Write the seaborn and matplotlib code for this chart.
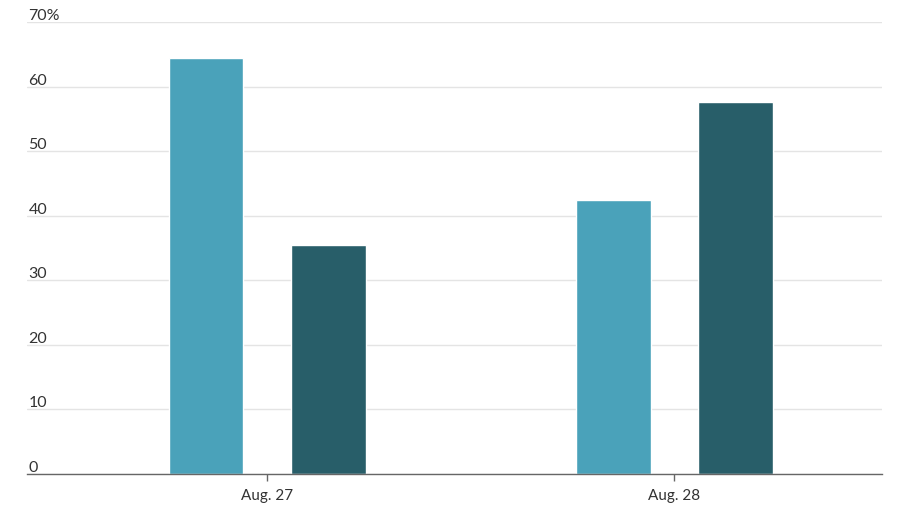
import pandas as pd
import matplotlib
matplotlib.use("Agg")
import matplotlib.pyplot as plt
import seaborn as sns

# values (percent)
dates = ["Aug. 27", "Aug. 28"]
series_names = ["First", "Second"]
first_values = [64.4, 42.4]
second_values = [35.5, 57.6]
y_ticks = [0, 10, 20, 30, 40, 50, 60, 70]
y_tick_labels = ["0", "10", "20", "30", "40", "50", "60", "70%"]
colors = ["#4aa2ba", "#285e69"]

df = pd.DataFrame({
    "date": dates * 2,
    "series": [series_names[0]] * 2 + [series_names[1]] * 2,
    "value": first_values + second_values,
})

sns.set_theme(style="white")
plt.rcParams["font.family"] = ["Lato", "DejaVu Sans"]

fig = plt.figure(figsize=(9, 5.1), dpi=100)
ax = fig.add_axes([0.03, 0.0686, 0.95, 0.8864])

sns.barplot(data=df, x="date", y="value", hue="series", order=dates,
            hue_order=series_names, palette=colors, width=0.6, gap=0.39,
            saturation=1, legend=False, ax=ax)

ax.set_xlim(-0.59, 1.51)
ax.set_ylim(0, 70)
ax.set_yticks(y_ticks)
ax.set_yticklabels(y_tick_labels)
ax.set_xlabel("")
ax.set_ylabel("")

ax.grid(axis="y", color="#e4e4e4", linewidth=1)
ax.set_axisbelow(True)
for side in ["top", "right", "left"]:
    ax.spines[side].set_visible(False)
ax.spines["bottom"].set_color("#666666")
ax.spines["bottom"].set_linewidth(1)

# y labels sit inside the plot, on top of their gridlines
ax.tick_params(axis="y", length=0, pad=-1, labelsize=11.5, labelcolor="#333333")
for lab in ax.get_yticklabels():
    lab.set_horizontalalignment("left")
    lab.set_verticalalignment("bottom")

ax.tick_params(axis="x", bottom=True, length=5, width=1, color="#666666",
               labelsize=11, labelcolor="#333333", pad=5)

fig.savefig("out.png", dpi=100)
